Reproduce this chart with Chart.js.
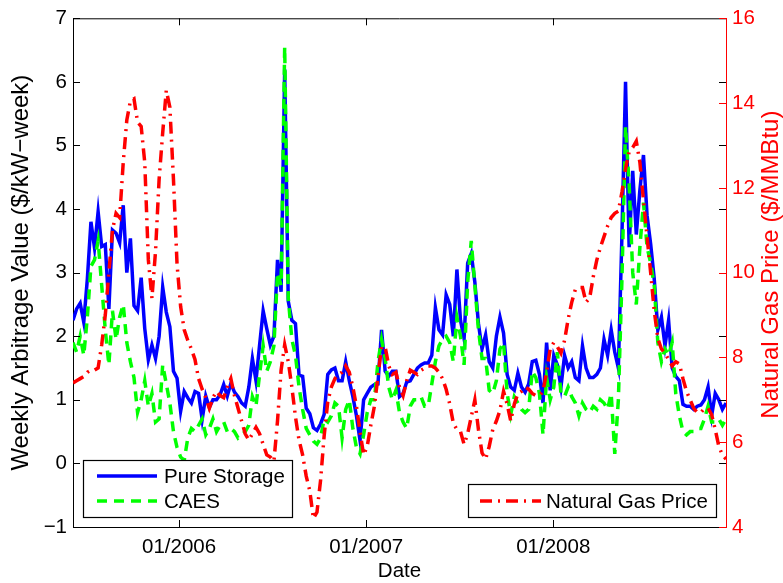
<!DOCTYPE html>
<html>
<head>
<meta charset="utf-8">
<script src="https://cdn.jsdelivr.net/npm/chart.js@4.4.1/dist/chart.umd.min.js"></script>
<style>
  html, body { margin: 0; padding: 0; background: #fff; }
  canvas { display: block; }
</style>
</head>
<body>
<canvas id="arbChart" width="783" height="583"></canvas>
<script>
// weekly values, first week starts early June 2005 (day 0 = 1 Jan 2006)
const startDay = -207;

const pureStorage = [
  2.25, 2.43, 2.52, 2.22, 2.9, 3.8, 3.39, 3.96, 3.41, 3.44,
  2.43, 3.67, 3.62, 3.47, 4.06, 3.0, 3.54, 2.48, 2.4, 2.92,
  2.12, 1.63, 1.86, 1.65, 2.0, 2.77, 2.38, 2.15, 1.45, 1.34,
  0.82, 1.13, 1.03, 0.95, 1.13, 1.1, 0.69, 1.06, 0.88, 1.0,
  1.0, 1.08, 1.24, 1.06, 1.26, 1.12, 1.05, 0.95, 0.9, 1.2,
  1.65, 1.3, 1.86, 2.4, 2.12, 1.86, 2.0, 3.2, 2.7, 6.2,
  2.55, 2.25, 2.2, 1.39, 1.37, 0.87, 0.78, 0.56, 0.52, 0.62,
  0.77, 1.4, 1.47, 1.5, 1.3, 1.3, 1.6, 1.3, 1.05, 0.75,
  0.36, 1.0, 1.1, 1.2, 1.24, 1.25, 2.1, 1.45, 1.37, 1.45,
  1.45, 1.05, 1.1, 1.28, 1.3, 1.4, 1.5, 1.55, 1.58, 1.58,
  1.7, 2.45, 2.1, 2.02, 2.65, 2.5, 2.0, 3.05, 2.25, 1.96,
  3.15, 3.3, 2.85, 2.2, 1.8, 2.02, 1.6, 1.5, 2.0, 2.3,
  2.05, 1.4, 1.2, 1.15, 1.42, 1.2, 1.12, 1.25, 1.6, 1.62,
  1.4, 0.95, 1.9, 1.15, 1.7, 1.55, 1.2, 1.7, 1.5, 1.6,
  1.35, 1.3, 1.85, 1.5, 1.35, 1.35, 1.4, 1.5, 1.95, 1.7,
  2.1, 1.75, 1.5, 3.6, 6.0, 3.4, 4.6, 3.6, 4.3, 4.85,
  3.9, 3.45, 2.9, 2.1, 2.3, 1.85, 2.25, 1.5, 1.37, 1.3,
  0.93, 0.9, 0.9, 0.85, 0.9, 0.92, 1.0, 1.2, 0.75, 1.1,
  1.0, 0.85, 0.95
];

const caes = [
  1.9, 1.75, 2.0, 1.7, 2.3, 3.1, 3.2, 3.5, 2.8, 2.1,
  1.55, 2.4, 1.95, 2.3, 2.5, 1.9, 1.6, 1.35, 0.8, 1.0,
  1.3, 0.9, 1.1, 0.65, 0.7, 1.55, 1.25, 0.95, 0.5, 0.25,
  0.1, 0.05, 0.4, 0.55, 0.5, 0.6, 0.7, 0.45, 0.55, 0.7,
  0.5, 0.6, 0.65, 0.5, 0.55, 0.5, 0.4, 0.45, 0.5, 0.6,
  1.05, 0.9, 1.4, 1.85, 1.45, 1.6, 1.85, 3.0, 2.8, 6.55,
  2.6, 1.95, 1.7, 1.2, 0.85, 0.55, 0.45, 0.35, 0.3, 0.4,
  0.7, 0.65, 0.75, 0.95, 0.9, 0.4, 0.85, 1.0, 0.55, 0.25,
  0.15, 0.45, 0.8, 1.0, 1.0, 1.6, 1.95, 1.65, 1.2, 1.0,
  1.15, 0.8, 0.65, 0.55, 0.9, 1.0, 1.0, 1.05, 0.9, 0.9,
  1.25, 1.6, 1.85, 1.95, 2.0, 1.9, 1.6, 2.3, 2.0, 1.55,
  2.85, 3.5, 2.8, 2.1, 1.65, 1.65, 1.15, 1.1, 1.3, 1.8,
  1.9, 1.1, 0.77, 1.05, 0.95, 0.85, 0.8, 0.85, 1.45, 1.35,
  1.1, 0.45, 1.35, 1.0, 1.2, 1.75, 1.1, 1.05, 1.2, 1.05,
  0.95, 0.75, 0.95, 0.85, 0.8, 0.9, 0.85, 1.0, 0.95, 0.85,
  1.1, 0.15, 1.0, 2.9, 5.3, 4.4, 3.0, 2.5, 3.4, 4.1,
  3.4, 3.15, 2.8, 1.9, 1.6, 1.8, 1.7, 1.9, 1.1, 0.75,
  0.5, 0.45, 0.5, 0.5, 0.55, 0.55, 0.7, 0.9, 0.65, 0.65,
  0.7, 0.6, 0.7
];

const gasPrice = [
  7.4, 7.45, 7.5, 7.55, 7.65, 7.7, 7.7, 7.75, 8.3, 9.0,
  10.0, 11.0, 11.4, 11.3, 12.6, 13.6, 14.05, 14.1, 13.55, 13.45,
  12.6, 10.3, 9.4, 10.5, 12.2, 13.3, 14.3, 13.9, 12.2, 10.2,
  9.2, 8.65, 8.4, 8.2, 7.95, 7.5, 7.25, 7.05, 6.8, 7.05,
  7.2, 7.1, 7.05, 7.3, 7.5, 7.1, 6.8, 6.5, 6.2, 6.05,
  6.2, 6.35, 6.2, 5.95, 5.7, 5.65, 5.55, 6.5, 7.7, 8.3,
  7.9, 7.3, 6.6, 6.05, 5.7, 5.2, 4.85, 4.2, 4.35, 5.1,
  6.15, 6.95, 7.3, 7.5, 7.6, 7.65, 7.8, 7.65, 7.3, 6.85,
  6.25, 5.7, 5.9, 6.4, 6.85, 7.55, 8.25, 8.25, 7.8, 7.6,
  7.65, 7.3, 7.1, 7.45, 7.7, 7.65, 7.6, 7.7, 7.75, 7.8,
  7.8, 7.75, 7.65, 7.5, 7.25, 6.9, 6.45, 6.3, 6.25, 5.95,
  6.2, 6.6, 7.0, 6.3, 5.75, 5.6, 5.9, 6.3, 6.5, 6.75,
  7.2, 6.9, 6.5, 6.9, 7.15, 7.2, 7.3, 7.25, 7.15, 7.1,
  7.1, 7.2, 7.65, 8.2, 8.35, 8.25, 8.1, 8.4, 8.9, 9.3,
  9.6, 9.65, 9.65, 9.3, 9.4, 9.9, 10.3, 10.6, 10.85, 11.1,
  11.3, 11.4, 11.45, 11.9, 12.45, 12.85, 12.95, 13.1, 12.6, 11.7,
  10.85, 10.0, 9.1, 8.45, 8.2, 8.1, 7.95, 7.8, 7.9, 7.85,
  7.5, 7.2, 7.0, 6.8, 6.7, 6.7, 6.8, 6.8, 6.65, 6.3,
  5.9, 5.7, 5.6
];

const tickDays = [0, 365, 730];
const tickLabels = ['01/2006', '01/2007', '01/2008'];

const weekDays = pureStorage.map((v, i) => startDay + 7 * i);
const toPoints = arr => arr.map((v, i) => ({ x: weekDays[i], y: v }));

const FONT = "'Liberation Sans', Arial, Helvetica, sans-serif";
Chart.defaults.font.family = FONT;
Chart.defaults.font.size = 20.5;
Chart.defaults.color = '#000';

// MATLAB-like frame: inward ticks, top border, boxed legends, axis labels
const framePlugin = {
  id: 'frame',
  afterDatasetsDraw(chart) {
    const { ctx, chartArea: a, scales } = chart;
    const len = 7;
    ctx.save();
    ctx.lineWidth = 1;
    ctx.strokeStyle = '#000';
    ctx.beginPath();
    ctx.moveTo(a.left, a.top + 0.5);
    ctx.lineTo(a.right, a.top + 0.5);
    scales.x.ticks.forEach(t => {
      const px = Math.round(scales.x.getPixelForValue(t.value)) + 0.5;
      ctx.moveTo(px, a.bottom); ctx.lineTo(px, a.bottom - len);
      ctx.moveTo(px, a.top); ctx.lineTo(px, a.top + len);
    });
    scales.y.ticks.forEach(t => {
      const py = Math.round(scales.y.getPixelForValue(t.value)) + 0.5;
      ctx.moveTo(a.left, py); ctx.lineTo(a.left + len, py);
      ctx.moveTo(a.right, py); ctx.lineTo(a.right - len, py);
    });
    ctx.stroke();
    ctx.strokeStyle = '#ff0000';
    ctx.beginPath();
    scales.y1.ticks.forEach(t => {
      const py = Math.round(scales.y1.getPixelForValue(t.value)) + 0.5;
      ctx.moveTo(a.right, py); ctx.lineTo(a.right - len, py);
    });
    ctx.stroke();

    // legend boxes
    ctx.font = '20.5px ' + FONT;
    ctx.textBaseline = 'middle';
    ctx.textAlign = 'left';
    const box = (x, y, w, h) => {
      ctx.fillStyle = '#fff';
      ctx.fillRect(x, y, w, h);
      ctx.strokeStyle = '#000';
      ctx.lineWidth = 1.2;
      ctx.strokeRect(x + 0.5, y + 0.5, w, h);
    };
    const sample = (x1, x2, y, color, dash) => {
      ctx.strokeStyle = color;
      ctx.lineWidth = 3.5;
      ctx.setLineDash(dash);
      ctx.beginPath(); ctx.moveTo(x1, y); ctx.lineTo(x2, y); ctx.stroke();
      ctx.setLineDash([]);
    };
    box(83, 460, 209, 57);
    sample(97, 157, 476, '#0000ff', []);
    sample(97, 157, 501, '#00ff00', [10, 7]);
    ctx.fillStyle = '#000';
    ctx.fillText('Pure Storage', 164, 477);
    ctx.fillText('CAES', 164, 502);
    box(468, 484, 248, 33);
    sample(480, 541, 501, '#ff0000', [12, 6, 2, 6]);
    ctx.fillStyle = '#000';
    ctx.fillText('Natural Gas Price', 546, 502);

    // axis labels
    ctx.textAlign = 'center';
    ctx.fillText('Date', (a.left + a.right) / 2, 571);
    ctx.font = '24px ' + FONT;
    ctx.save();
    ctx.translate(21, (a.top + a.bottom) / 2);
    ctx.rotate(-Math.PI / 2);
    ctx.fillText('Weekly Arbitrage Value ($/kW\u2212week)', 0, 0);
    ctx.restore();
    ctx.save();
    ctx.translate(771, (a.top + a.bottom) / 2 - 8);
    ctx.rotate(-Math.PI / 2);
    ctx.fillStyle = '#ff0000';
    ctx.fillText('Natural Gas Price ($/MMBtu)', 0, 0);
    ctx.restore();
    ctx.restore();
  }
};

const minus = v => (v < 0 ? '\u2212' + Math.abs(v) : String(v));

new Chart(document.getElementById('arbChart'), {
  type: 'line',
  data: {
    datasets: [
      {
        label: 'Natural Gas Price',
        data: toPoints(gasPrice),
        yAxisID: 'y1',
        borderColor: '#ff0000',
        borderWidth: 3.5,
        borderDash: [12, 6, 2, 6],
        order: 1
      },
      {
        label: 'CAES',
        data: toPoints(caes),
        yAxisID: 'y',
        borderColor: '#00ff00',
        borderWidth: 3.5,
        borderDash: [10, 7],
        order: 2
      },
      {
        label: 'Pure Storage',
        data: toPoints(pureStorage),
        yAxisID: 'y',
        borderColor: '#0000ff',
        borderWidth: 3.5,
        order: 3
      }
    ]
  },
  options: {
    responsive: false,
    animation: false,
    devicePixelRatio: 1,
    layout: { padding: { top: 12, left: 0, right: 0, bottom: 0 } },
    elements: { point: { radius: 0 }, line: { tension: 0 } },
    plugins: { legend: { display: false }, tooltip: { enabled: false } },
    scales: {
      x: {
        type: 'linear',
        min: startDay,
        max: startDay + 7 * (pureStorage.length - 1),
        afterBuildTicks: s => { s.ticks = tickDays.map(d => ({ value: d })); },
        afterFit: s => { s.height = 56; },
        grid: { drawOnChartArea: false, drawTicks: false },
        border: { color: '#000', width: 1 },
        ticks: {
          padding: 8,
          maxRotation: 0,
          callback: v => tickLabels[tickDays.indexOf(v)]
        }
      },
      y: {
        position: 'left',
        min: -1,
        max: 7,
        afterFit: s => { s.width = 73; },
        grid: { drawOnChartArea: false, drawTicks: false },
        border: { color: '#000', width: 1 },
        ticks: { stepSize: 1, padding: 6, callback: minus }
      },
      y1: {
        position: 'right',
        min: 4,
        max: 16,
        afterFit: s => { s.width = 57; },
        grid: { drawOnChartArea: false, drawTicks: false },
        border: { color: '#ff0000', width: 1 },
        ticks: { stepSize: 2, padding: 6, color: '#ff0000' }
      }
    }
  },
  plugins: [framePlugin]
});
</script>
</body>
</html>
